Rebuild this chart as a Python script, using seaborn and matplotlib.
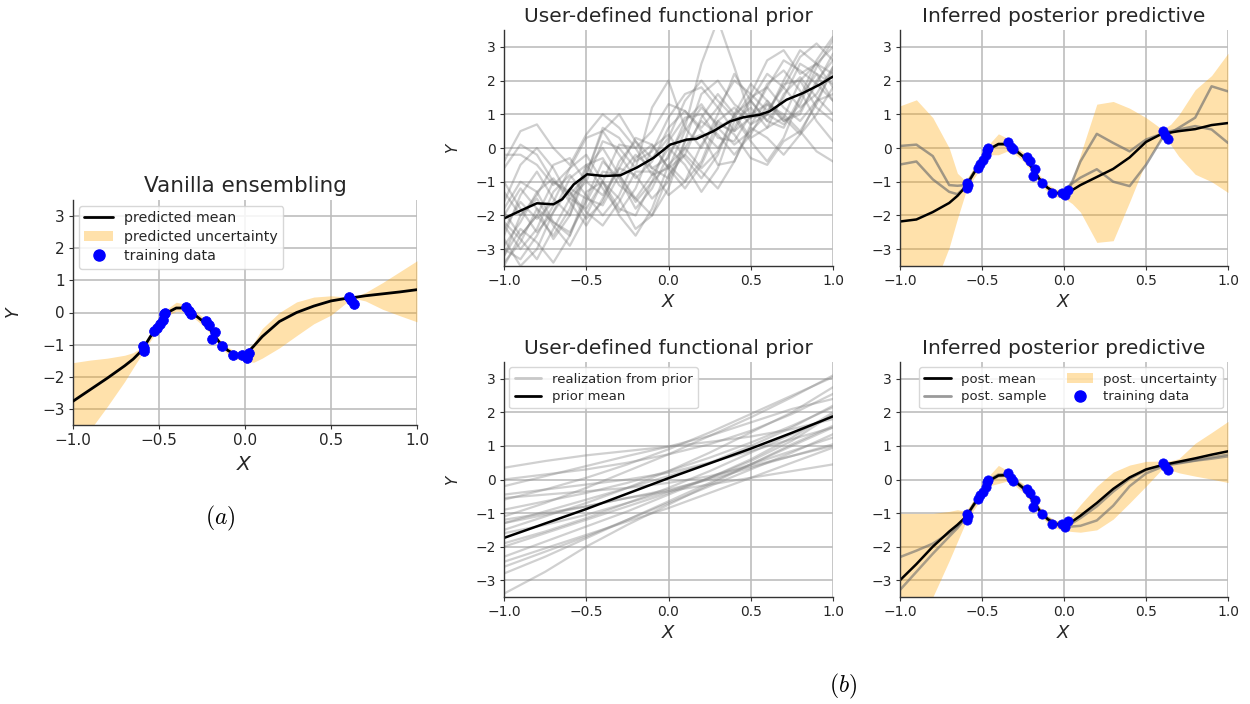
import numpy as np
import pandas as pd
import matplotlib
matplotlib.use("Agg")
import matplotlib.pyplot as plt
from matplotlib.lines import Line2D
from matplotlib.patches import Patch
import seaborn as sns

# ---------------- data ----------------
TRAIN_X = [-0.594, -0.590, -0.585, -0.527, -0.513, -0.494, -0.478, -0.469, -0.463, -0.343, -0.324, -0.314,
           -0.227, -0.208, -0.175, -0.192, -0.136, -0.072, -0.015, 0.009, 0.024, 0.604, 0.614, 0.633]
TRAIN_Y = [-1.04, -1.20, -1.09, -0.58, -0.47, -0.37, -0.22, -0.06, -0.01, 0.18, 0.04, -0.04,
           -0.27, -0.40, -0.61, -0.83, -1.04, -1.32, -1.32, -1.40, -1.25, 0.49, 0.40, 0.28]

XG = [-1.0, -0.9, -0.8, -0.7, -0.65, -0.6, -0.55, -0.5, -0.45, -0.4, -0.35, -0.3, -0.25, -0.2, -0.15,
      -0.1, -0.05, 0.0, 0.05, 0.1, 0.2, 0.3, 0.4, 0.5, 0.6, 0.65, 0.7, 0.8, 0.9, 1.0]

# (a) vanilla ensembling
A_MEAN = [-2.76, -2.40, -2.04, -1.66, -1.45, -1.18, -0.75, -0.38, 0.00, 0.14, 0.14, -0.04, -0.25, -0.55, -0.92,
          -1.18, -1.33, -1.33, -1.05, -0.75, -0.28, 0.00, 0.20, 0.36, 0.45, 0.48, 0.52, 0.58, 0.64, 0.71]
A_HI = [-1.56, -1.48, -1.42, -1.33, -1.25, -1.08, -0.62, -0.28, 0.12, 0.32, 0.26, 0.08, -0.12, -0.44, -0.82,
        -1.08, -1.22, -1.22, -0.95, -0.50, 0.00, 0.33, 0.48, 0.52, 0.48, 0.52, 0.62, 0.93, 1.27, 1.61]
A_LO = [-4.10, -3.65, -2.92, -2.15, -1.72, -1.30, -0.88, -0.50, -0.10, 0.04, 0.02, -0.16, -0.38, -0.66, -1.02,
        -1.30, -1.45, -1.50, -1.55, -1.42, -1.10, -0.72, -0.35, -0.08, 0.35, 0.42, 0.36, 0.10, -0.10, -0.29]

# (b) top right: posterior predictive (wiggly prior)
TR_MEAN = [-2.18, -2.12, -1.90, -1.63, -1.42, -1.15, -0.75, -0.40, -0.02, 0.12, 0.12, -0.05, -0.25, -0.55, -0.92,
           -1.18, -1.33, -1.35, -1.25, -1.10, -0.86, -0.62, -0.28, 0.18, 0.43, 0.46, 0.50, 0.56, 0.68, 0.74]
TR_HI = [1.25, 1.43, 0.90, 0.00, -0.75, -0.98, -0.58, -0.22, 0.15, 0.42, 0.30, 0.05, -0.12, -0.42, -0.80,
         -1.08, -1.22, -1.25, -0.95, -0.20, 1.30, 1.38, 1.18, 0.90, 0.55, 0.70, 0.98, 1.73, 2.15, 2.81]
TR_LO = [-6.00, -5.00, -4.20, -2.95, -2.10, -1.32, -0.90, -0.55, -0.20, -0.20, -0.10, -0.18, -0.38, -0.68, -1.04,
         -1.30, -1.45, -1.48, -1.65, -1.90, -2.80, -2.75, -1.60, -0.40, 0.30, 0.10, -0.25, -0.78, -1.00, -1.32]
TR_S1 = [0.06, 0.10, -0.24, -1.10, -1.12, -1.10, -0.72, -0.38, 0.00, 0.10, 0.10, -0.02, -0.25, -0.55, -0.92,
         -1.18, -1.33, -1.35, -1.00, -0.40, 0.42, 0.15, -0.10, 0.25, 0.43, 0.50, 0.55, 0.65, 0.55, 0.15]
TR_S2 = [-0.49, -0.40, -0.93, -1.30, -1.37, -1.15, -0.75, -0.40, -0.02, 0.10, 0.10, -0.05, -0.25, -0.55, -0.92,
         -1.18, -1.33, -1.35, -1.05, -0.88, -0.63, -1.00, -1.13, -0.50, 0.30, 0.45, 0.60, 0.90, 1.83, 1.68]

# (b) bottom right: posterior predictive (smooth prior)
BR_MEAN = [-3.00, -2.52, -2.00, -1.55, -1.35, -1.12, -0.75, -0.40, -0.02, 0.12, 0.13, -0.05, -0.25, -0.55, -0.92,
           -1.18, -1.33, -1.33, -1.25, -1.08, -0.70, -0.28, 0.06, 0.30, 0.43, 0.48, 0.53, 0.63, 0.74, 0.84]
BR_HI = [-1.01, -1.01, -1.01, -0.95, -0.90, -0.95, -0.60, -0.25, 0.15, 0.42, 0.28, 0.05, -0.12, -0.42, -0.80,
         -1.08, -1.22, -1.25, -1.05, -0.75, -0.20, 0.22, 0.43, 0.54, 0.55, 0.56, 0.62, 1.08, 1.40, 1.73]
BR_LO = [-5.50, -4.50, -3.50, -2.42, -1.85, -1.28, -0.90, -0.55, -0.18, -0.12, -0.05, -0.18, -0.38, -0.68, -1.04,
         -1.30, -1.45, -1.52, -1.55, -1.57, -1.50, -1.18, -0.70, -0.20, 0.32, 0.28, 0.20, 0.10, 0.01, -0.09]
BR_S1 = [-2.31, -2.12, -1.91, -1.60, -1.40, -1.15, -0.72, -0.37, 0.01, 0.15, 0.16, -0.02, -0.22, -0.52, -0.89,
         -1.15, -1.30, -1.30, -1.30, -1.15, -0.80, -0.36, 0.02, 0.28, 0.43, 0.46, 0.50, 0.57, 0.66, 0.74]
BR_S2 = [-3.29, -2.75, -2.21, -1.70, -1.45, -1.15, -0.78, -0.42, -0.04, 0.10, 0.11, -0.07, -0.27, -0.57, -0.94,
         -1.20, -1.36, -1.38, -1.40, -1.38, -1.22, -0.78, -0.20, 0.18, 0.38, 0.44, 0.48, 0.56, 0.62, 0.69]

# (b) top middle: wiggly functional prior
PRIOR_X = [-1.0, -0.9, -0.8, -0.7, -0.6, -0.5, -0.4, -0.3, -0.2, -0.1, 0.0,
           0.1, 0.2, 0.3, 0.4, 0.5, 0.6, 0.7, 0.8, 0.9, 1.0]
PRIOR_MEAN_X = [-1.0, -0.9, -0.8, -0.7, -0.646, -0.576, -0.495, -0.394, -0.293, -0.192, -0.09, 0.01,
                0.111, 0.17, 0.273, 0.374, 0.455, 0.556, 0.616, 0.717, 0.818, 0.919, 1.0]
PRIOR_MEAN_Y = [-2.09, -1.86, -1.64, -1.67, -1.52, -1.08, -0.78, -0.83, -0.81, -0.58, -0.29, 0.10,
                0.25, 0.27, 0.50, 0.79, 0.91, 0.99, 1.09, 1.43, 1.63, 1.88, 2.12]
PRIOR_CURVES = [
    [-0.4, 0.5, 0.7, 0.0, -0.5, 0.4, 1.0, 0.6, 0.0, 0.5, 1.3, 1.1, 0.6, 1.2, 2.0, 1.6, 1.1, 1.8, 2.7, 3.1, 2.6],
    [-2.9, -2.2, -1.3, -0.9, -1.6, -2.3, -1.5, -0.6, -0.8, -1.5, -1.0, 0.0, 0.8, 0.4, -0.2, 0.4, 1.3, 1.0, 0.5, 1.3, 2.4],
    [-1.6, -0.5, 0.0, -0.6, -1.5, -1.0, 0.2, 0.0, -0.6, 1.2, 2.0, 0.6, 0.0, 1.0, 2.2, 1.4, 0.8, 1.5, 2.5, 2.2, 1.4],
    [-3.4, -2.8, -1.8, -2.2, -2.6, -1.5, -0.4, -0.9, -1.8, -1.2, -0.2, 0.6, 2.5, 3.8, 2.4, 0.9, 1.0, 1.9, 2.0, 1.2, 0.8],
    [-2.3, -3.0, -2.4, -1.3, -0.8, -1.4, -2.0, -1.4, -0.3, 0.1, -0.6, -1.2, -0.5, 0.6, 0.9, 0.2, -0.4, 0.3, 1.5, 2.2, 1.9],
    [-0.2, -0.2, -0.5, -1.1, -0.6, 0.3, 0.5, -0.2, -0.9, -0.4, 0.6, 1.1, 0.5, 0.0, 0.6, 1.5, 1.8, 1.2, 0.8, 1.4, 2.3],
    [-3.2, -2.0, -1.5, -2.3, -2.9, -2.0, -1.0, -1.5, -2.4, -2.0, -0.8, -0.2, -0.7, -1.2, -0.4, 0.6, 0.3, -0.2, 0.4, 1.4, 1.6],
    [-1.0, -1.8, -2.5, -1.9, -0.9, -0.5, -1.2, -1.9, -1.2, 0.0, 0.4, -0.3, -0.9, -0.2, 1.0, 1.4, 0.8, 0.6, 1.5, 2.6, 3.3],
    [-2.6, -1.4, -0.7, -1.5, -2.0, -0.8, 0.6, 0.3, -0.4, -0.1, 0.9, 1.6, 1.8, 1.2, 0.5, 0.9, 1.9, 2.3, 1.7, 0.8, 0.2],
    [-3.0, -3.3, -2.6, -1.7, -1.3, -1.9, -2.3, -1.6, -0.7, -0.7, -1.4, -1.0, 0.1, 0.8, 0.4, -0.3, -0.5, 0.2, 0.5, -0.1, -0.4],
    [-2.0, -1.2, -1.8, -2.7, -2.0, -0.6, 0.0, -0.8, -1.6, -1.0, 0.2, 0.9, 1.0, 0.3, 0.2, 1.0, 1.3, 0.8, 1.0, 2.0, 2.6],
    [-1.3, -2.0, -1.4, -0.5, -0.3, -1.0, -1.4, -0.6, 0.3, 0.1, -0.6, -0.2, 0.9, 1.6, 1.0, 0.3, 0.6, 1.6, 2.1, 1.5, 1.0],
    [-3.5, -2.6, -2.0, -2.6, -1.8, -0.5, -0.3, -1.1, -1.5, -0.8, 0.0, -0.5, -1.3, -0.6, 0.8, 1.2, 0.6, 0.9, 2.0, 2.5, 2.2],
    [-2.2, -2.7, -3.3, -2.4, -1.5, -1.8, -1.0, 0.1, 0.0, -0.8, -0.6, 0.5, 1.2, 0.7, 0.5, 1.4, 2.2, 1.8, 1.2, 1.6, 2.4],
    [-1.8, -1.0, -1.3, -2.2, -2.5, -1.6, -0.7, -0.8, -1.5, -2.0, -1.2, 0.2, 0.4, -0.5, -0.4, 0.7, 1.4, 0.9, 0.4, 1.0, 1.8],
    [-2.7, -3.5, -3.0, -1.9, -1.2, -1.5, -1.7, -0.8, -0.2, -0.6, -0.9, 0.2, 1.6, 2.0, 1.3, 0.9, 1.8, 2.6, 2.3, 1.9, 2.8],
    [-0.6, 0.1, -0.2, -1.0, -1.4, -0.8, 0.5, 1.0, 0.2, -0.6, -0.3, 0.8, 1.3, 0.6, 0.1, 0.5, 1.0, 0.7, 1.3, 2.4, 3.2],
    [-2.4, -1.6, -2.1, -1.6, -0.6, -0.2, -1.0, -2.0, -2.6, -1.8, -0.5, 0.0, -0.6, -0.1, 1.0, 1.9, 1.4, 0.8, 1.1, 1.9, 1.4],
    [-3.2, -2.4, -2.8, -3.4, -2.6, -1.3, -1.0, -1.8, -2.0, -1.0, -0.5, -1.0, -0.4, 0.8, 1.2, 0.7, 1.0, 2.0, 2.9, 2.5, 1.8],
    [-1.9, -2.6, -2.0, -1.0, -1.3, -2.1, -1.6, -0.4, 0.2, -0.3, 0.3, 1.4, 2.0, 1.4, 0.9, 1.6, 2.6, 2.9, 2.2, 2.5, 3.0],
]

# (b) bottom middle: smooth functional prior
LIN_X = [-1.0, -0.75, -0.5, -0.25, 0.0, 0.25, 0.5, 0.75, 1.0]
LIN_MEAN = [-1.74, -1.31, -0.88, -0.42, 0.04, 0.48, 0.92, 1.39, 1.88]
LIN_CURVES = [
    [0.35, 0.55, 0.72, 0.85, 0.98, 1.12, 1.28, 1.50, 1.80],
    [-0.20, 0.10, 0.40, 0.70, 0.98, 1.30, 1.70, 2.10, 2.40],
    [-0.45, -0.30, -0.15, 0.00, 0.20, 0.50, 0.85, 1.20, 1.55],
    [-0.55, -0.45, -0.35, -0.25, -0.10, 0.10, 0.40, 0.70, 1.00],
    [-1.10, -0.70, -0.25, 0.25, 0.75, 1.30, 1.85, 2.45, 3.10],
    [-1.30, -0.95, -0.60, -0.25, 0.10, 0.50, 1.00, 1.55, 2.20],
    [-1.50, -1.10, -0.70, -0.25, 0.25, 0.80, 1.40, 2.00, 2.75],
    [-2.00, -1.60, -1.20, -0.80, -0.40, 0.05, 0.55, 1.15, 1.95],
    [-2.30, -1.85, -1.40, -0.95, -0.45, 0.05, 0.60, 1.25, 2.00],
    [-2.45, -2.05, -1.65, -1.25, -0.85, -0.40, 0.05, 0.50, 0.95],
    [-2.80, -2.30, -1.75, -1.20, -0.65, -0.10, 0.45, 1.00, 1.55],
    [-3.40, -2.75, -2.00, -1.35, -0.75, -0.15, 0.45, 1.05, 1.60],
    [-1.20, -1.00, -0.80, -0.55, -0.30, 0.00, 0.35, 0.70, 1.05],
    [-0.60, -0.30, 0.05, 0.45, 0.90, 1.40, 1.95, 2.50, 3.05],
    [-1.90, -1.55, -1.15, -0.70, -0.25, 0.25, 0.80, 1.35, 1.90],
    [-0.90, -0.65, -0.40, -0.10, 0.25, 0.65, 1.10, 1.60, 2.15],
    [-2.60, -2.15, -1.70, -1.20, -0.70, -0.20, 0.30, 0.80, 1.35],
    [-1.60, -1.35, -1.05, -0.70, -0.35, 0.05, 0.45, 0.85, 1.25],
    [0.00, 0.15, 0.30, 0.50, 0.75, 1.05, 1.45, 1.95, 2.55],
    [-1.30, -1.05, -0.80, -0.55, -0.35, -0.15, 0.05, 0.25, 0.45],
]

TITLES = ["Vanilla ensembling", "User-defined functional prior", "Inferred posterior predictive"]

# ---------------- style ----------------
sns.set_theme(style="whitegrid")
plt.rcParams['font.family'] = ['DejaVu Sans']
plt.rcParams['mathtext.fontset'] = 'dejavusans'

TXT = '#262626'
BAND = 'orange'
BAND_A = 0.33
GRID = '#bdbdbd'

fig = plt.figure(figsize=(12.5, 7.04), dpi=100)
W, H = 1250.0, 704.0


def make_ax(x0, y0, x1, y1):
    return fig.add_axes([x0 / W, 1 - y1 / H, (x1 - x0) / W, (y1 - y0) / H])


def style(ax, title, tick_fs, title_fs, xl_fs, yl_fs, xpad, ypad):
    ax.set_xlim(-1, 1)
    ax.set_ylim(-3.5, 3.5)
    ax.set_xticks([-1.0, -0.5, 0.0, 0.5, 1.0])
    ax.set_yticks([-3, -2, -1, 0, 1, 2, 3])
    ax.grid(True, color=GRID, linewidth=1.2)
    ax.set_axisbelow(True)
    for s in ['top', 'right']:
        ax.spines[s].set_visible(False)
    for s in ['left', 'bottom']:
        ax.spines[s].set_color('#333333')
        ax.spines[s].set_linewidth(1.0)
    ax.tick_params(labelsize=tick_fs, labelcolor=TXT, color='#333333', length=3, width=0.8, pad=3,
                   bottom=True, left=True)
    ax.set_xlabel('$X$', fontsize=xl_fs, color=TXT, labelpad=xpad)
    ax.set_ylabel('$Y$', fontsize=yl_fs, color=TXT, labelpad=ypad)
    ax.set_title(title, fontsize=title_fs, color=TXT, pad=6)


def train_pts(ax, s):
    sns.scatterplot(x=TRAIN_X, y=TRAIN_Y, ax=ax, color='blue', s=s, edgecolor='blue',
                    linewidth=0.5, zorder=5, legend=False)


xg = np.array(XG)

# ---- (a) ----
ax_a = make_ax(73, 200, 417, 425)
sns.lineplot(x=xg, y=A_MEAN, ax=ax_a, color='black', lw=2, sort=False, estimator=None, zorder=4)
ax_a.fill_between(xg, A_LO, A_HI, color=BAND, alpha=BAND_A, lw=0, zorder=2)
train_pts(ax_a, 50)
style(ax_a, TITLES[0], 11, 15.5, 14.5, 12.5, 5, 14)
h_a = [Line2D([], [], color='black', lw=2),
       Patch(facecolor=BAND, alpha=BAND_A, edgecolor='none'),
       Line2D([], [], color='blue', marker='o', ls='none', markersize=8)]
ax_a.legend(h_a, ['predicted mean', 'predicted uncertainty', 'training data'], loc='upper left',
            fontsize=10.2, frameon=True, facecolor='white', edgecolor='#d0d0d0', framealpha=0.85,
            borderaxespad=0.4, handlelength=2.0, labelspacing=0.35, labelcolor=TXT)

# ---- top middle: wiggly prior ----
ax_tm = make_ax(504, 30, 833, 266)
df_prior = pd.DataFrame([(i, x, y) for i, c in enumerate(PRIOR_CURVES) for x, y in zip(PRIOR_X, c)],
                        columns=['unit', 'x', 'y'])
sns.lineplot(data=df_prior, x='x', y='y', units='unit', estimator=None, ax=ax_tm,
             color='#7a7a7a', alpha=0.36, lw=1.6, sort=False)
sns.lineplot(x=PRIOR_MEAN_X, y=PRIOR_MEAN_Y, ax=ax_tm, color='black', lw=1.8, sort=False, estimator=None)
style(ax_tm, TITLES[1], 10, 14.5, 13, 11, 3, 10)

# ---- top right ----
ax_tr = make_ax(900, 30, 1228, 266)
ax_tr.fill_between(xg, TR_LO, TR_HI, color=BAND, alpha=BAND_A, lw=0, zorder=2)
sns.lineplot(x=xg, y=TR_S1, ax=ax_tr, color='#6e6e6e', alpha=0.65, lw=1.8, sort=False, estimator=None)
sns.lineplot(x=xg, y=TR_S2, ax=ax_tr, color='#6e6e6e', alpha=0.65, lw=1.8, sort=False, estimator=None)
sns.lineplot(x=xg, y=TR_MEAN, ax=ax_tr, color='black', lw=1.8, sort=False, estimator=None)
train_pts(ax_tr, 45)
style(ax_tr, TITLES[2], 10, 14.5, 13, 11, 3, 10)
ax_tr.set_ylabel('')

# ---- bottom middle: smooth prior ----
ax_bm = make_ax(504, 362, 833, 597)
df_lin = pd.DataFrame([(i, x, y) for i, c in enumerate(LIN_CURVES) for x, y in zip(LIN_X, c)],
                      columns=['unit', 'x', 'y'])
sns.lineplot(data=df_lin, x='x', y='y', units='unit', estimator=None, ax=ax_bm,
             color='#8a8a8a', alpha=0.4, lw=1.6, sort=False)
sns.lineplot(x=LIN_X, y=LIN_MEAN, ax=ax_bm, color='black', lw=1.8, sort=False, estimator=None)
style(ax_bm, TITLES[1], 10, 14.5, 13, 11, 3, 10)
h_bm = [Line2D([], [], color='#c8c8c8', lw=2), Line2D([], [], color='black', lw=2)]
ax_bm.legend(h_bm, ['realization from prior', 'prior mean'], loc='upper left', fontsize=9.5,
             frameon=True, facecolor='white', edgecolor='#d0d0d0', framealpha=0.85,
             borderaxespad=0.4, handlelength=2.0, labelspacing=0.35, labelcolor=TXT)

# ---- bottom right ----
ax_br = make_ax(900, 362, 1228, 597)
ax_br.fill_between(xg, BR_LO, BR_HI, color=BAND, alpha=BAND_A, lw=0, zorder=2)
sns.lineplot(x=xg, y=BR_S1, ax=ax_br, color='#6e6e6e', alpha=0.6, lw=1.8, sort=False, estimator=None)
sns.lineplot(x=xg, y=BR_S2, ax=ax_br, color='#6e6e6e', alpha=0.6, lw=1.8, sort=False, estimator=None)
sns.lineplot(x=xg, y=BR_MEAN, ax=ax_br, color='black', lw=1.8, sort=False, estimator=None)
train_pts(ax_br, 45)
style(ax_br, TITLES[2], 10, 14.5, 13, 11, 3, 10)
ax_br.set_ylabel('')
h_br = [Line2D([], [], color='black', lw=2),
        Line2D([], [], color='#9a9a9a', lw=2),
        Patch(facecolor=BAND, alpha=BAND_A, edgecolor='none'),
        Line2D([], [], color='blue', marker='o', ls='none', markersize=8)]
ax_br.legend(h_br, ['post. mean', 'post. sample', 'post. uncertainty', 'training data'], ncol=2,
             loc='upper right', fontsize=9.5, frameon=True, facecolor='white', edgecolor='#d0d0d0',
             framealpha=0.85, borderaxespad=0.4, handlelength=2.0, labelspacing=0.35,
             columnspacing=1.5, labelcolor=TXT)

# ---- panel labels ----
fig.text(220 / W, 1 - 518 / H, '$(a)$', ha='center', va='center', fontsize=17, math_fontfamily='cm', color='black')
fig.text(843 / W, 1 - 686 / H, '$(b)$', ha='center', va='center', fontsize=17, math_fontfamily='cm', color='black')

fig.savefig('out.png', dpi=100, facecolor='white')
